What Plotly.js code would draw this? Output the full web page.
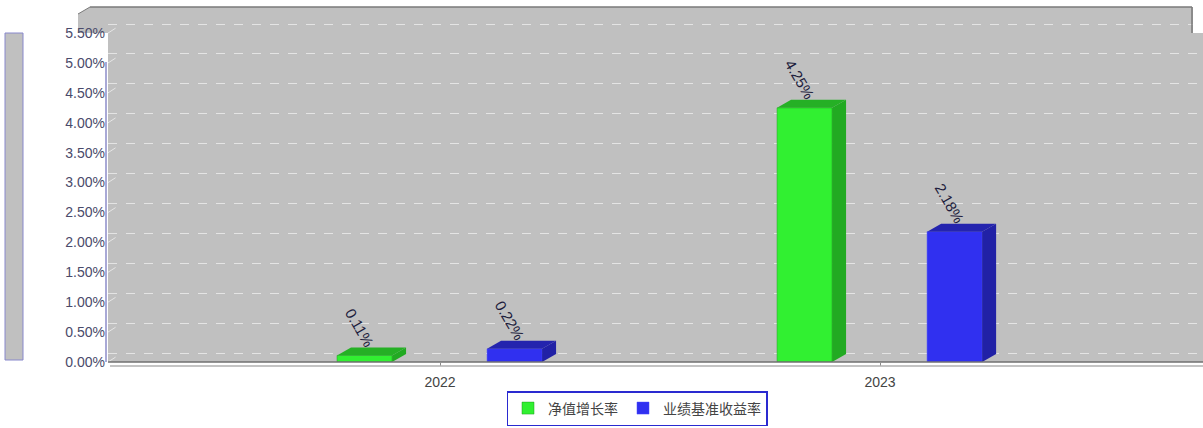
<!DOCTYPE html>
<html>
<head>
<meta charset="utf-8">
<script src="https://cdn.plot.ly/plotly-3.0.1.min.js"></script>
<style>html,body{margin:0;padding:0;background:#fff;}#chart{width:1203px;height:428px;}</style>
</head>
<body>
<div id="chart"></div>
<script>
// ---- data ----
const categories = ['2022', '2023'];
const seriesNames = ['净值增长率', '业绩基准收益率'];
const navGrowth = [0.11, 4.25];
const benchmark = [0.22, 2.18];
const tickValues = [0, 0.5, 1, 1.5, 2, 2.5, 3, 3.5, 4, 4.5, 5, 5.5];
const tickLabels = ['0.00%', '0.50%', '1.00%', '1.50%', '2.00%', '2.50%', '3.00%', '3.50%', '4.00%', '4.50%', '5.00%', '5.50%'];
const valueLabels = [['0.11%', '4.25%'], ['0.22%', '2.18%']];

// ---- style ----
const W = 1203, H = 428;
const M = {l: 108, r: 0, t: 7, b: 66, autoexpand: false};
const xRange = [-0.7545, 1.734];
const yRange = [0, 5.936];
const pxPerX = (W - M.l - M.r) / (xRange[1] - xRange[0]);
const pxPerY = (H - M.t - M.b) / (yRange[1] - yRange[0]);
const depthX = 14 / pxPerX;
const depthY = 8 / pxPerY;
const gridShift = 9 / pxPerY;

const barWidth = 0.125;
const offsets = [-0.234, 0.107];
const frontColors = ['#31f031', '#3030f0'];
const sideColors = ['#22aa22', '#2121a6'];
const topColors = ['#25b025', '#2424ae'];
const edgeColors = ['#1f9a1f', '#4848ff'];

const xIdx = categories.map((c, i) => i);
const allSeries = [navGrowth, benchmark];

const traces = allSeries.map((vals, s) => ({
  type: 'bar',
  name: seriesNames[s],
  x: xIdx,
  y: vals,
  width: barWidth,
  offset: offsets[s],
  marker: {color: frontColors[s], line: {color: edgeColors[s], width: 0.5}},
  hoverinfo: 'skip'
}));

const shapes = [];
const annotations = [];
allSeries.forEach((vals, s) => {
  vals.forEach((v, i) => {
    const xl = i + offsets[s];
    const xr = xl + barWidth;
    shapes.push({
      type: 'path', xref: 'x', yref: 'y', layer: 'above',
      path: `M ${xr} 0 L ${xr + depthX} ${depthY} L ${xr + depthX} ${v + depthY} L ${xr} ${v} Z`,
      fillcolor: sideColors[s], line: {width: 0}
    });
    shapes.push({
      type: 'path', xref: 'x', yref: 'y', layer: 'above',
      path: `M ${xl} ${v} L ${xl + depthX} ${v + depthY} L ${xr + depthX} ${v + depthY} L ${xr} ${v} Z`,
      fillcolor: topColors[s], line: {width: 0}
    });
    annotations.push({
      xref: 'x', yref: 'y', x: (xl + xr) / 2, y: v,
      text: valueLabels[s][i], showarrow: false, textangle: 60,
      xanchor: 'center', yanchor: 'middle', xshift: -5, yshift: 28,
      font: {family: 'Liberation Sans, Arial, sans-serif', size: 15, color: '#1c1c3c'}
    });
  });
});

tickValues.forEach(v => {
  shapes.push({
    type: 'line', xref: 'paper', yref: 'y', layer: 'above',
    xsizemode: 'pixel', xanchor: 0, x0: 0, x1: 14,
    y0: v, y1: v + gridShift,
    line: {color: '#e6e6e6', width: 1, dash: 'dash'}
  });
});

const px2paperX = p => (p - M.l) / (W - M.l - M.r);
const py2paperY = p => (H - M.b - p) / (H - M.t - M.b);
shapes.push(
  {type: 'path', xref: 'paper', yref: 'paper', layer: 'below',
   path: `M ${px2paperX(78)} ${py2paperY(14)} L ${px2paperX(90)} ${py2paperY(7)} L ${px2paperX(108)} ${py2paperY(7)} L ${px2paperX(108)} ${py2paperY(33)} L ${px2paperX(78)} ${py2paperY(33)} Z`,
   fillcolor: '#c0c0c0', line: {width: 0}},
  {type: 'rect', xref: 'paper', yref: 'paper', layer: 'above',
   x0: px2paperX(1193), x1: 1.01, y0: py2paperY(33), y1: 1.01,
   fillcolor: '#ffffff', line: {width: 0}},
  {type: 'line', xref: 'paper', yref: 'paper', layer: 'above',
   x0: px2paperX(90), x1: px2paperX(1192), y0: py2paperY(7), y1: py2paperY(7),
   line: {color: '#7a7a7a', width: 1.5}},
  {type: 'line', xref: 'paper', yref: 'paper', layer: 'above',
   x0: px2paperX(1192), x1: px2paperX(1192), y0: py2paperY(7), y1: py2paperY(33),
   line: {color: '#7a7a7a', width: 1.5}},
  {type: 'line', xref: 'paper', yref: 'paper', layer: 'above',
   x0: px2paperX(78), x1: px2paperX(90), y0: py2paperY(14), y1: py2paperY(7),
   line: {color: '#7a7a7a', width: 1}},
  {type: 'line', xref: 'paper', yref: 'paper', layer: 'above',
   x0: px2paperX(108), x1: 1, y0: py2paperY(362), y1: py2paperY(362),
   line: {color: '#707070', width: 1.5}},
  {type: 'line', xref: 'paper', yref: 'paper', layer: 'above',
   x0: px2paperX(110), x1: 1, y0: py2paperY(366), y1: py2paperY(366),
   line: {color: '#b0b0b0', width: 1.5}},
  {type: 'rect', xref: 'paper', yref: 'paper', layer: 'below',
   x0: px2paperX(5), x1: px2paperX(23), y0: py2paperY(360), y1: py2paperY(33),
   fillcolor: '#c0c0c0', line: {color: '#8888cc', width: 1}},
  {type: 'line', xref: 'paper', yref: 'paper', layer: 'above',
   x0: px2paperX(106), x1: px2paperX(106), y0: py2paperY(362), y1: py2paperY(62),
   line: {color: '#8c8cc8', width: 1.5}}
);

const layout = {
  width: W, height: H,
  margin: M,
  paper_bgcolor: '#ffffff',
  plot_bgcolor: '#c0c0c0',
  barmode: 'overlay',
  showlegend: true,
  font: {family: 'Liberation Sans, Arial, sans-serif', color: '#444'},
  xaxis: {
    range: xRange, tickvals: xIdx, ticktext: categories,
    showgrid: false, zeroline: false, showline: false,
    ticks: 'outside', ticklen: 3, tickcolor: '#888',
    ticklabelstandoff: 4,
    tickfont: {family: 'Liberation Sans, Arial, sans-serif', size: 14, color: '#444'},
    automargin: false, fixedrange: true
  },
  yaxis: {
    range: yRange, tickvals: tickValues, ticktext: tickLabels,
    showgrid: false, zeroline: false, showline: false, ticks: '',
    ticklabelstandoff: 2,
    tickfont: {family: 'Liberation Sans, Arial, sans-serif', size: 14, color: '#4a4a6a'},
    automargin: false, fixedrange: true
  },
  yaxis2: {
    overlaying: 'y', side: 'right',
    range: [yRange[0] - gridShift, yRange[1] - gridShift],
    tick0: 0, dtick: 0.5,
    showgrid: true, gridcolor: '#e4e4e4', gridwidth: 1, griddash: 'dash',
    showticklabels: false, ticks: '', zeroline: false, showline: false,
    automargin: false, fixedrange: true
  },
  legend: {
    orientation: 'h', x: px2paperX(637), xanchor: 'center',
    y: py2paperY(426), yanchor: 'bottom',
    bordercolor: '#2a2ad0', borderwidth: 1.5, bgcolor: '#ffffff',
    font: {family: 'Noto Sans CJK SC, sans-serif', size: 14, color: '#444'},
    itemwidth: 20, tracegroupgap: 0
  },
  shapes: shapes,
  annotations: annotations
};

traces.push({type: 'scatter', x: [xIdx[0]], y: [0], yaxis: 'y2', mode: 'none', showlegend: false, hoverinfo: 'skip'});

Plotly.newPlot('chart', traces, layout, {staticPlot: true, displayModeBar: false});
</script>
</body>
</html>
